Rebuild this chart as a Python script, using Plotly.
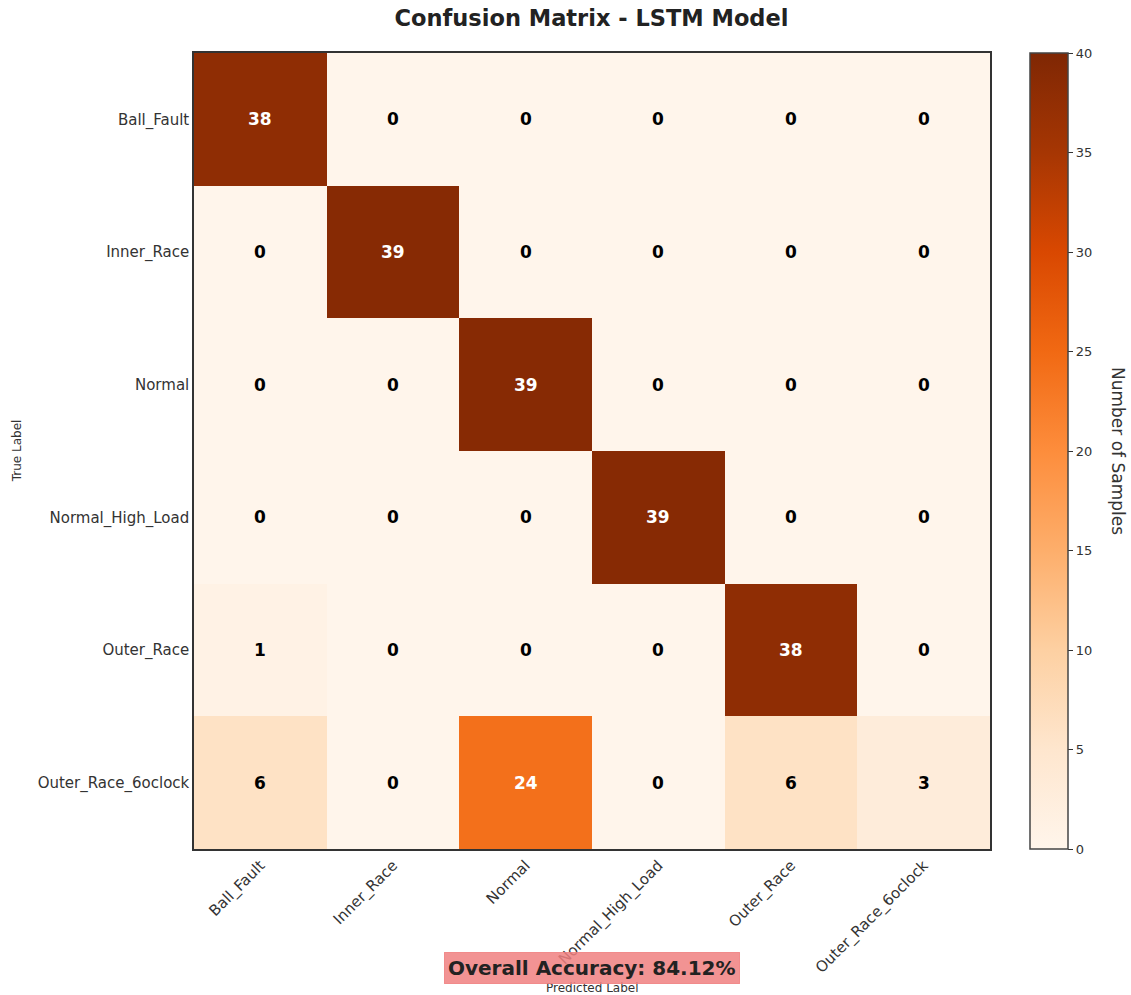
import numpy as np
import plotly.graph_objects as go

# Class names (rows = true label, columns = predicted label)
classes = ["Ball_Fault", "Inner_Race", "Normal", "Normal_High_Load",
           "Outer_Race", "Outer_Race_6oclock"]

# Confusion matrix counts
row_ball_fault = [38, 0, 0, 0, 0, 0]
row_inner_race = [0, 39, 0, 0, 0, 0]
row_normal = [0, 0, 39, 0, 0, 0]
row_normal_high_load = [0, 0, 0, 39, 0, 0]
row_outer_race = [1, 0, 0, 0, 38, 0]
row_outer_race_6oclock = [6, 0, 24, 0, 6, 3]

cm = np.array([row_ball_fault, row_inner_race, row_normal,
               row_normal_high_load, row_outer_race, row_outer_race_6oclock])

colorbar_ticks = [0, 5, 10, 15, 20, 25, 30, 35, 40]
zmax = 40

accuracy = np.trace(cm) / cm.sum() * 100

FONT = "DejaVu Sans"

fig = go.Figure()
fig.add_trace(go.Heatmap(
    z=cm,
    x=classes,
    y=classes,
    colorscale="Oranges",
    zmin=0,
    zmax=zmax,
    hoverongaps=False,
    colorbar=dict(
        x=(1030 - 194) / 796,
        xanchor="left",
        xpad=0,
        ypad=0,
        y=0.5,
        yanchor="middle",
        len=1.0,
        lenmode="fraction",
        thickness=38,
        thicknessmode="pixels",
        outlinewidth=1.5,
        outlinecolor="#444444",
        tickmode="array",
        tickvals=colorbar_ticks,
        ticktext=[str(t) for t in colorbar_ticks],
        tickprefix=" ",
        ticks="outside",
        ticklen=5,
        tickwidth=1.2,
        tickcolor="#333333",
        tickfont=dict(family=FONT, size=13, color="#333333"),
    ),
))

# Cell value labels
threshold = zmax / 2
annotations = []
for i, true_name in enumerate(classes):
    for j, pred_name in enumerate(classes):
        v = int(cm[i, j])
        annotations.append(dict(
            x=pred_name, y=true_name, xref="x", yref="y",
            text=f"<b>{v}</b>", showarrow=False,
            font=dict(family=FONT, size=17,
                      color="white" if v > threshold else "black"),
        ))

# Colorbar title
annotations.append(dict(
    x=(1118 - 194) / 796, y=0.5, xref="paper", yref="paper",
    xanchor="center", yanchor="middle",
    text="Number of Samples", showarrow=False, textangle=90,
    font=dict(family=FONT, size=17, color="#333333"),
))

# Axis titles
annotations.append(dict(
    x=0.5, y=-0.175, xref="paper", yref="paper", yanchor="middle",
    text="Predicted Label", showarrow=False,
    font=dict(family=FONT, size=12, color="#333333"),
))
annotations.append(dict(
    x=-0.222, y=0.5, xref="paper", yref="paper", xanchor="center",
    text="True Label", showarrow=False, textangle=-90,
    font=dict(family=FONT, size=12, color="#333333"),
))

# Overall accuracy badge
annotations.append(dict(
    x=0.5, y=-0.149, xref="paper", yref="paper", yanchor="middle",
    text=f"<b>Overall Accuracy: {accuracy:.2f}%</b>", showarrow=False,
    font=dict(family=FONT, size=20, color="#222222"),
    bgcolor="rgba(240,128,128,0.85)",
    bordercolor="rgba(240,128,128,0.85)",
    borderwidth=1,
    borderpad=3,
))

fig.update_layout(
    width=1131,
    height=995,
    margin=dict(l=194, r=141, t=53, b=146, autoexpand=False),
    paper_bgcolor="white",
    plot_bgcolor="white",
    title=dict(
        text="<b>Confusion Matrix - LSTM Model</b>",
        x=0.523, xanchor="center",
        y=0.982, yanchor="middle",
        font=dict(family=FONT, size=22.5, color="#222222"),
    ),
    annotations=annotations,
    xaxis=dict(
        tickangle=-45,
        tickfont=dict(family=FONT, size=15, color="#333333"),
        showline=True, linecolor="#333333", linewidth=1.5, mirror=True,
        ticks="", showgrid=False, zeroline=False,
    ),
    yaxis=dict(
        autorange="reversed",
        tickfont=dict(family=FONT, size=15, color="#333333"),
        showline=True, linecolor="#333333", linewidth=1.5, mirror=True,
        ticks="", showgrid=False, zeroline=False,
    ),
)

fig.write_html("out.html")
